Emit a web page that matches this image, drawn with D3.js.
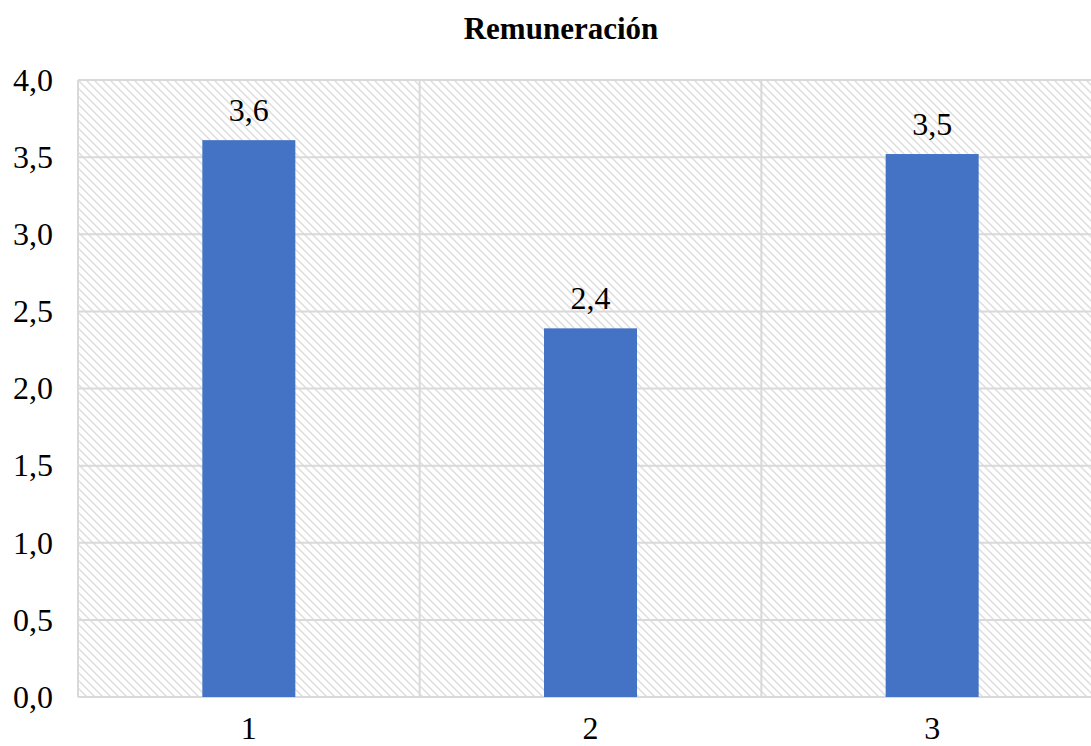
<!DOCTYPE html>
<html>
<head>
<meta charset="utf-8">
<script src="https://cdn.jsdelivr.net/npm/d3@7"></script>
</head>
<body style="margin:0">
<svg id="chart" width="1091" height="746" font-family="Liberation Serif"></svg>
<script>
// Chart data
const title = "Remuneración";
const categories = ["1", "2", "3"];
const values = [3.61, 2.39, 3.52];
const yTicks = [0, 0.5, 1, 1.5, 2, 2.5, 3, 3.5, 4];

const W = 1091, H = 746;
const margin = { top: 80, right: -12, bottom: 49, left: 78 };
const innerW = W - margin.left - margin.right;
const innerH = H - margin.top - margin.bottom;
const textStyle = (size, bold) =>
  `font-family: "Liberation Serif"; font-size: ${size}px; fill: #000;` + (bold ? " font-weight: bold;" : "");

const svg = d3.select("#chart");
const fmt = v => d3.format(".1f")(v).replace(".", ",");

// Diagonal hatch fill for the plot area
const defs = svg.append("defs");
const pat = defs.append("pattern")
  .attr("id", "hatch")
  .attr("patternUnits", "userSpaceOnUse")
  .attr("width", 8).attr("height", 8);
pat.append("rect").attr("width", 8).attr("height", 8).attr("fill", "#fff");
pat.append("path")
  .attr("d", "M-2,-2 L10,10 M-2,6 L2,10 M6,-2 L10,2")
  .attr("stroke", "#dedede")
  .attr("stroke-width", 1.5);

const g = svg.append("g").attr("transform", `translate(${margin.left},${margin.top})`);

const x = d3.scaleBand().domain(categories).range([0, innerW]).paddingInner(0).paddingOuter(0);
const y = d3.scaleLinear().domain([0, 4]).range([innerH, 0]);

g.append("rect")
  .attr("width", innerW).attr("height", innerH)
  .attr("fill", "url(#hatch)");

// Horizontal gridlines
g.append("g")
  .selectAll("line")
  .data(yTicks)
  .join("line")
  .attr("x1", 0).attr("x2", innerW)
  .attr("y1", d => y(d)).attr("y2", d => y(d))
  .attr("stroke", "#d9d9d9").attr("stroke-width", 2);

// Vertical gridlines at category boundaries
const bounds = [0].concat(categories.map(c => x(c) + x.bandwidth()));
g.append("g")
  .selectAll("line")
  .data(bounds)
  .join("line")
  .attr("x1", d => d).attr("x2", d => d)
  .attr("y1", 0).attr("y2", innerH)
  .attr("stroke", "#d9d9d9").attr("stroke-width", 2);

// Bars
const barW = 93;
g.append("g")
  .selectAll("rect")
  .data(values)
  .join("rect")
  .attr("x", (d, i) => x(categories[i]) + x.bandwidth() / 2 - barW / 2)
  .attr("y", d => y(d))
  .attr("width", barW)
  .attr("height", d => innerH - y(d))
  .attr("fill", "#4472c4");

// Value labels
g.append("g")
  .selectAll("text")
  .data(values)
  .join("text")
  .attr("x", (d, i) => x(categories[i]) + x.bandwidth() / 2)
  .attr("y", d => y(d) - 19)
  .attr("text-anchor", "middle")
  .attr("font-family", "Liberation Serif")
  .attr("style", textStyle(32))
  .text(d => fmt(d));

// Y axis labels
const yAxis = d3.axisLeft(y).tickValues(yTicks).tickFormat(fmt).tickSize(0).tickPadding(25);
const ya = g.append("g").call(yAxis).attr("font-family", "Liberation Serif").attr("font-size", 32);
ya.select(".domain").remove();
ya.selectAll("text")
  .attr("font-family", "Liberation Serif")
  .attr("style", textStyle(32));

// X axis labels
const xAxis = d3.axisBottom(x).tickSize(0).tickPadding(19);
const xa = g.append("g").attr("transform", `translate(0,${innerH})`).call(xAxis)
  .attr("font-family", "Liberation Serif").attr("font-size", 32);
xa.select(".domain").remove();
xa.selectAll("text")
  .attr("font-family", "Liberation Serif")
  .attr("style", textStyle(32));

// Title
svg.append("text")
  .attr("x", 561).attr("y", 39)
  .attr("text-anchor", "middle")
  .attr("font-family", "Liberation Serif")
  .attr("style", textStyle(31, true))
  .text(title);
</script>
</body>
</html>
